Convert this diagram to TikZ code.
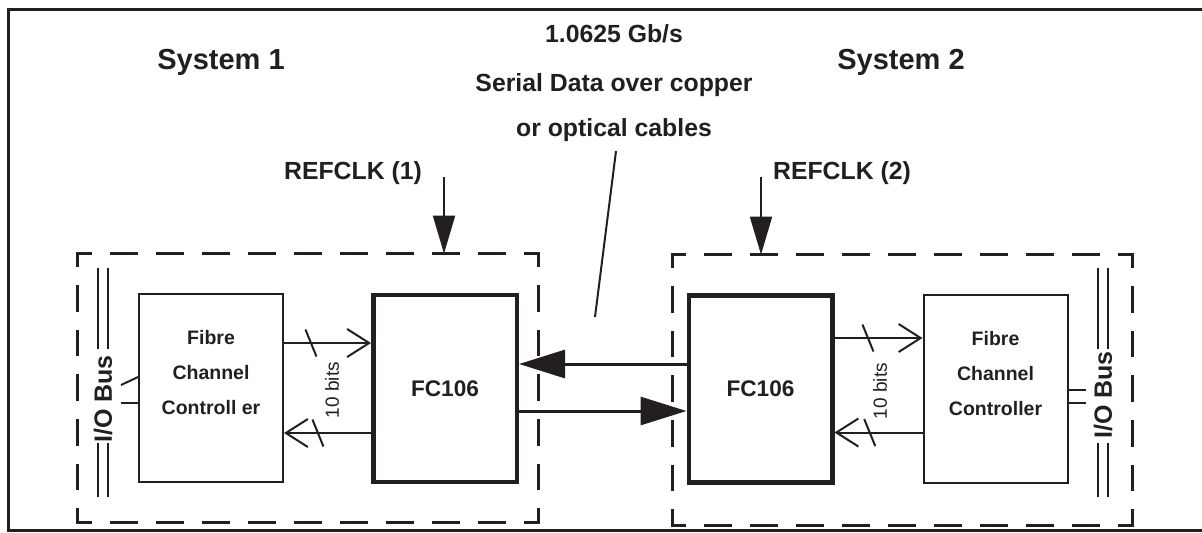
\documentclass[tikz,border=0pt]{standalone}
\usepackage{fontspec}
\setmainfont{Liberation Sans}
\usetikzlibrary{arrows.meta, calc, positioning}
\definecolor{ink}{HTML}{231F20}

\begin{document}
\begin{tikzpicture}[x=0.5pt, y=-0.5pt, ink,
    sysbox/.style={inner sep=0pt, minimum width=230pt, minimum height=134pt},
    hedge/.style={line width=1.5pt, line cap=rect, dash pattern=on 12.5pt off 10.5pt, dash phase=6.25pt},
    vedge/.style={line width=1.5pt, line cap=rect, dash pattern=on 11.9pt off 10.43pt, dash phase=5.95pt},
    ctrlbox/.style={draw, line width=1pt, minimum width=72pt, minimum height=94pt},
    chipbox/.style={draw, line width=2.25pt, minimum width=71.75pt, minimum height=93.5pt,
      font=\fontsize{11.3}{13}\selectfont\bfseries},
    ctrltext/.style={align=center, inner sep=0pt, font=\fontsize{9.75}{17.5}\selectfont\bfseries},
    systitle/.style={font=\fontsize{14.5}{17}\selectfont\bfseries},
    notetext/.style={font=\fontsize{12.4}{15}\selectfont\bfseries},
    bustext/.style={rotate=90, font=\fontsize{12.5}{15}\selectfont\bfseries},
    bitstext/.style={rotate=90, font=\fontsize{9.5}{11}\selectfont},
    link/.style={line width=1.5pt, -{Triangle[length=23pt, width=14pt]}},
    bits/.style={line width=1pt, -{Straight Barb[length=11pt, width=14pt, line width=1pt]}},
    clk/.style={line width=1pt, -{Triangle[length=19pt, width=11pt]}},
    bitmark/.style={line width=1pt},
    busline/.style={line width=1pt},
  ]
  \useasboundingbox (0,0) rectangle (1202,532);

  % --- outer frame ---
  \draw[line width=1.5pt] (1202,9) -- (8,9) -- (8,530) -- (1202,530);

  % --- headings ---
  \node[systitle] (sysA) at (221,62) {System 1};
  \node[systitle] (sysB) at (901,62) {System 2};
  \node[notetext] (rate) at (614,34) {1.0625 Gb/s};
  \node[notetext] (serial) at (614,85) {Serial Data over copper};
  \node[notetext, inner sep=0pt] (cables) at (614,130) {or optical cables};
  \node[notetext] (refA) at (353,173) {REFCLK (1)};
  \node[notetext] (refB) at (842,173) {REFCLK (2)};

  % --- system outlines (dashed) ---
  \node[sysbox] (boxA) at (308,388) {};
  \node[sysbox, minimum height=135pt] (boxB) at (902.5,390) {};
  \foreach \b in {boxA,boxB} {
    \draw[hedge] (\b.north west) -- (\b.north east) (\b.south west) -- (\b.south east);
    \draw[vedge] (\b.north west) -- (\b.south west) (\b.north east) -- (\b.south east);
  }

  % --- blocks ---
  \node[ctrlbox] (ctrlA) at (211,388) {};
  \node[chipbox] (fcA) at (445,388.5) {FC106};
  \node[chipbox] (fcB) at (760.5,389) {FC106};
  \node[ctrlbox] (ctrlB) at (995.5,388.5) {};
  \node[ctrltext] (ctrlAtxt) at ([shift={(0,-15)}]ctrlA.center) {Fibre\\Channel\\Controll er};
  \node[ctrltext] (ctrlBtxt) at ([shift={(0,-15)}]ctrlB.center) {Fibre\\Channel\\Controller};

  % --- serial link ---
  \draw[link] ([shift={(0,-25)}]fcB.west) coordinate (rx) -- (rx -| fcA.east);
  \draw[link] ([shift={(0,22.5)}]fcA.east) coordinate (tx) -- (tx -| fcB.west);
  \coordinate (wireTip) at (595,317);
  \draw[line width=1pt] ([shift={(2,9)}]cables.south) -- (wireTip);

  % --- reference clocks ---
  \coordinate (clkA) at (444,177);
  \coordinate (clkB) at (761,177);
  \draw[clk] (clkA) -- (clkA |- boxA.north);
  \draw[clk] (clkB) -- (clkB |- boxB.north);

  % --- 10 bit paths ---
  \draw[bits] ([shift={(0,-45)}]ctrlA.east) coordinate (a1) -- coordinate[pos=.31] (m1) (a1 -| fcA.west);
  \draw[bits] ([shift={(0,44.5)}]fcA.west) coordinate (a2) -- coordinate[pos=.61] (m2) (a2 -| ctrlA.east);
  \draw[bits] ([shift={(0,-51)}]fcB.east) coordinate (b1) -- coordinate[pos=.38] (m3) (b1 -| ctrlB.west);
  \draw[bits] ([shift={(0,44)}]ctrlB.west) coordinate (b2) -- coordinate[pos=.6] (m4) (b2 -| fcB.east);
  \foreach \m in {m1,m2,m3,m4}
    \draw[bitmark] (\m) +(-5.5,-13.5) -- +(5.5,13.5);
  \node[bitstext] (bitsA) at (332,390) {10 bits};
  \node[bitstext] (bitsB) at (880,391) {10 bits};

  % --- I/O buses ---
  \node[bustext] (busA) at (103,399) {I/O Bus};
  \node[bustext] (busB) at (1103,395) {I/O Bus};
  \foreach \bx in {98,108,1098,1108}
    \draw[busline] (\bx,268) -- (\bx,349) (\bx,443) -- (\bx,497);
  \draw[busline] ([shift={(0,-11)}]ctrlA.west) -- ++(-17,8);
  \draw[busline] ([shift={(0,15)}]ctrlA.west) -- ++(-17,0);
  \draw[busline] ([shift={(0,1.5)}]ctrlB.east) -- ++(17,0);
  \draw[busline] ([shift={(0,14.5)}]ctrlB.east) -- ++(17,0);
\end{tikzpicture}
\end{document}
